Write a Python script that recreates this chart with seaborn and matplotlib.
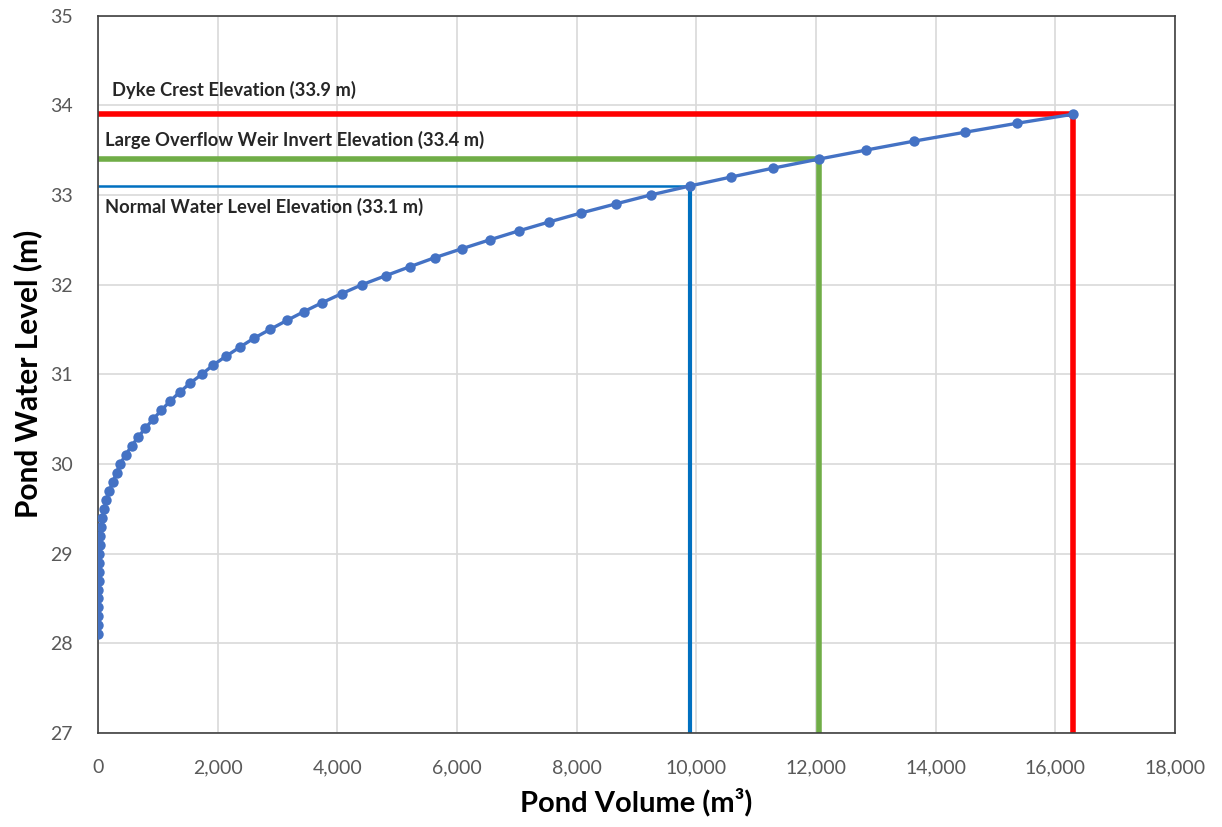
import matplotlib
matplotlib.use("Agg")
import matplotlib.pyplot as plt
import matplotlib.ticker as mticker
import seaborn as sns
import pandas as pd

# Stage-storage relationship for the pond
elevation_m = [28.1, 28.2, 28.3, 28.4, 28.5, 28.6, 28.7, 28.8, 28.9, 29.0,
               29.1, 29.2, 29.3, 29.4, 29.5, 29.6, 29.7, 29.8, 29.9, 30.0,
               30.1, 30.2, 30.3, 30.4, 30.5, 30.6, 30.7, 30.8, 30.9, 31.0,
               31.1, 31.2, 31.3, 31.4, 31.5, 31.6, 31.7, 31.8, 31.9, 32.0,
               32.1, 32.2, 32.3, 32.4, 32.5, 32.6, 32.7, 32.8, 32.9, 33.0,
               33.1, 33.2, 33.3, 33.4, 33.5, 33.6, 33.7, 33.8, 33.9]
volume_m3 = [0, 1, 2, 3, 5, 7, 9, 12, 16, 21,
             28, 40, 57, 75, 100, 140, 188, 250, 310, 368,
             462, 560, 672, 792, 922, 1060, 1203, 1365, 1537, 1735,
             1918, 2136, 2365, 2600, 2874, 3155, 3445, 3750, 4075, 4415,
             4810, 5213, 5625, 6080, 6550, 7034, 7545, 8080, 8652, 9237,
             9890, 10580, 11290, 12047, 12832, 13637, 14495, 15365, 16293]

# Key design elevations and their storage volumes
level_names = ["Dyke Crest Elevation (33.9 m)",
               "Large Overflow Weir Invert Elevation (33.4 m)",
               "Normal Water Level Elevation (33.1 m)"]
level_elev = [33.9, 33.4, 33.1]
level_volume = [16293, 12047, 9890]
level_colors = ["#FF0000", "#70AD47", "#0070C0"]

sns.set_theme(style="whitegrid")
plt.rcParams["font.family"] = ["Lato", "DejaVu Sans"]

fig = plt.figure(figsize=(12.22, 8.27), dpi=100)
ax = fig.add_axes([0.0802, 0.1137, 0.8813, 0.8674])

df = pd.DataFrame({"volume": volume_m3, "elevation": elevation_m})
sns.lineplot(data=df, x="volume", y="elevation", ax=ax, color="#4472C4",
             linewidth=2.4, marker="o", markersize=7.5, markeredgewidth=0,
             zorder=3, sort=False)

ymin = 27
# horizontal lines from the y-axis to the curve, vertical lines down to the x-axis
h_widths = [4, 4, 1.8]
v_widths = [4, 4, 3]
for elev, vol, col, hw, vw in zip(level_elev, level_volume, level_colors, h_widths, v_widths):
    ax.plot([0, vol], [elev, elev], color=col, linewidth=hw, zorder=2,
            solid_capstyle="butt")
    ax.plot([vol, vol], [ymin, elev], color=col, linewidth=vw, zorder=2,
            solid_capstyle="butt")

# level labels
label_pos = [(229, 34.17), (117, 33.61), (117, 32.87)]
for name, (lx, ly) in zip(level_names, label_pos):
    ax.text(lx, ly, name, fontsize=13.2, fontweight="bold", color="#262626",
            ha="left", va="center")

ax.set_xlim(0, 18000)
ax.set_ylim(27, 35)
ax.xaxis.set_major_locator(mticker.MultipleLocator(2000))
ax.yaxis.set_major_locator(mticker.MultipleLocator(1))
ax.xaxis.set_major_formatter(mticker.FuncFormatter(lambda v, p: f"{int(v):,}"))
ax.yaxis.set_major_formatter(mticker.FuncFormatter(lambda v, p: f"{int(v)}"))

ax.grid(True, color="#D9D9D9", linewidth=1.2)
for side in ["left", "bottom", "top", "right"]:
    ax.spines[side].set_visible(True)
    ax.spines[side].set_color("#404040")
    ax.spines[side].set_linewidth(1.2)

ax.tick_params(axis="x", labelsize=14, labelcolor="#595959", length=0, pad=19)
ax.tick_params(axis="y", labelsize=14, labelcolor="#595959", length=0, pad=18)
ax.set_xlabel("Pond Volume (m³)", fontsize=21, fontweight="bold", color="black",
              labelpad=8)
ax.set_ylabel("Pond Water Level (m)", fontsize=21.5, fontweight="bold", color="black",
              labelpad=6)

fig.savefig("out.png", dpi=100)
